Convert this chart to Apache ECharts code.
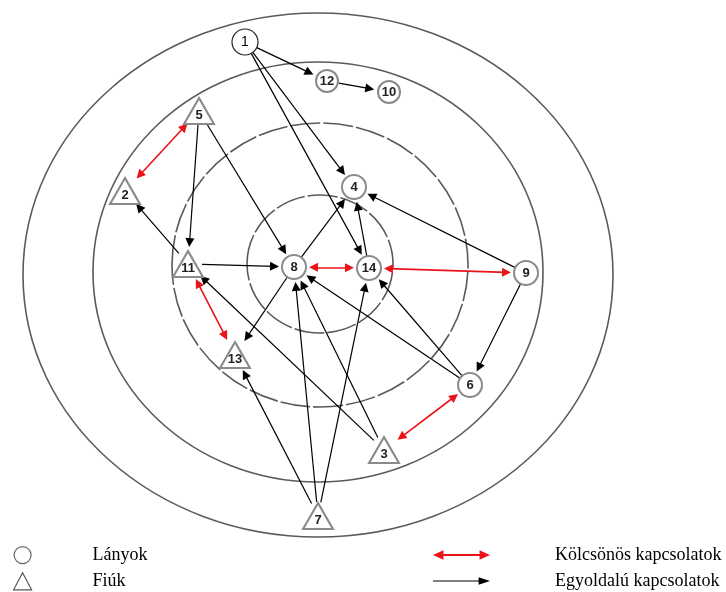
<!DOCTYPE html>
<html>
<head>
<meta charset="utf-8">
<script src="https://cdn.jsdelivr.net/npm/echarts@6/dist/echarts.min.js"></script>
<style>
html,body{margin:0;padding:0;background:#fff;}
#main{width:726px;height:592px;}
</style>
</head>
<body>
<div id="main"></div>
<script>
// Girls (circles): [label, x, y]
const girls = [
  ['1', 245, 42], ['12', 327, 81], ['10', 389, 92], ['4', 354, 187],
  ['8', 294, 267], ['14', 369, 268], ['9', 526, 273], ['6', 470, 385]
];
// Boys (triangles): [label, x, y]
const boys = [
  ['5', 199, 111], ['2', 125, 191], ['11', 188, 264],
  ['13', 235, 355], ['3', 384, 450], ['7', 318, 516]
];
// Mutual (red, two-way) relations
const mutualLinks = [['5', '2'], ['11', '13'], ['8', '14'], ['14', '9'], ['6', '3']];
// One-way (black) relations: [from, to]
const oneWayLinks = [
  ['1', '12'], ['1', '4'], ['1', '14'], ['12', '10'], ['5', '11'], ['5', '8'],
  ['11', '2'], ['11', '8'], ['8', '4'], ['8', '13'], ['14', '4'], ['9', '4'],
  ['9', '6'], ['6', '14'], ['6', '8'], ['3', '11'], ['3', '8'],
  ['7', '13'], ['7', '8'], ['7', '14']
];
// Concentric rings: [cx, cy, rx, ry, dashed]
const rings = [
  [318, 275, 295, 262, 0],
  [318, 272, 225, 210, 0],
  [320, 265, 148, 142, 1],
  [320, 264, 73, 69, 1]
];
// Legend texts
const legendLeft = ['Lányok', 'Fiúk'];
const legendRight = ['Kölcsönös kapcsolatok', 'Egyoldalú kapcsolatok'];

const nodes = {};
girls.forEach(g => nodes[g[0]] = {x: g[1], y: g[2], r: g[0] === '1' ? 13 : 12});
boys.forEach(b => nodes[b[0]] = {x: b[1], y: b[2], r: 14});

const ARROW = 9, GAP = 3;
function seg(a, b, arrowA, arrowB) {
  const A = nodes[a], B = nodes[b];
  const dx = B.x - A.x, dy = B.y - A.y, L = Math.hypot(dx, dy);
  const ux = dx / L, uy = dy / L;
  const sa = arrowA ? A.r + GAP + ARROW / 2 : A.r;
  const sb = arrowB ? B.r + GAP + ARROW / 2 : B.r;
  return {coords: [[A.x + ux * sa, A.y + uy * sa], [B.x - ux * sb, B.y - uy * sb]]};
}

const labelStyle = {
  show: true, position: 'inside', formatter: p => p.value[2],
  fontFamily: 'Liberation Sans', fontWeight: 'bold', fontSize: 13, color: '#222'
};
const legendText = {fontFamily: 'Liberation Serif', fontSize: 18, lineHeight: 18, color: '#000'};

const chart = echarts.init(document.getElementById('main'));
chart.setOption({
  animation: false,
  backgroundColor: '#fff',
  grid: {left: 0, right: 0, top: 0, bottom: 0},
  xAxis: {type: 'value', min: 0, max: 726, show: false},
  yAxis: {type: 'value', min: 0, max: 592, inverse: true, show: false},
  legend: [
    {
      left: 13, top: 546, height: 46, padding: 0, orient: 'vertical', itemGap: 8,
      itemWidth: 18, itemHeight: 17, selectedMode: false,
      textStyle: Object.assign({padding: [0, 0, 0, 56]}, legendText),
      data: [
        {name: legendLeft[0], icon: 'circle', itemStyle: {color: '#fff', borderColor: '#666', borderWidth: 1.2}},
        {name: legendLeft[1], icon: 'triangle', itemStyle: {color: '#fff', borderColor: '#555', borderWidth: 1.2}}
      ]
    },
    {
      left: 433, top: 546, height: 46, padding: 0, orient: 'vertical', itemGap: 8,
      itemWidth: 57, itemHeight: 10, selectedMode: false,
      textStyle: Object.assign({padding: [0, 0, 0, 60]}, legendText),
      data: [
        {name: legendRight[0], icon: 'path://M0,5L11,0L11,4L49,4L49,0L60,5L49,10L49,6L11,6L11,10Z',
         itemStyle: {color: '#e8141a', borderWidth: 0}},
        {name: legendRight[1], icon: 'path://M0,4.4L48,4.4L48,1L60,5L48,9L48,5.6L0,5.6Z',
         itemStyle: {color: '#000', borderWidth: 0}}
      ]
    }
  ],
  series: [
    {
      type: 'custom', name: 'rings', silent: true, z: 1,
      data: rings,
      renderItem: (params, api) => {
        const c = api.coord([api.value(0), api.value(1)]);
        const s = api.size([api.value(2), api.value(3)]);
        return {
          type: 'ellipse',
          shape: {cx: c[0], cy: c[1], rx: s[0], ry: s[1]},
          style: {fill: null, stroke: '#5a5a5a', lineWidth: 1.6,
                   lineDash: api.value(4) ? [30, 3] : null}
        };
      }
    },
    {
      type: 'lines', name: legendRight[1], coordinateSystem: 'cartesian2d', z: 2,
      symbol: ['none', 'triangle'], symbolSize: ARROW,
      lineStyle: {color: '#000', width: 1.2, opacity: 1},
      itemStyle: {color: '#000'},
      data: oneWayLinks.map(l => seg(l[0], l[1], false, true))
    },
    {
      type: 'lines', name: legendRight[0], coordinateSystem: 'cartesian2d', z: 2,
      symbol: ['triangle', 'triangle'], symbolSize: ARROW,
      lineStyle: {color: '#e8141a', width: 1.6, opacity: 1},
      itemStyle: {color: '#e8141a'},
      data: mutualLinks.map(l => seg(l[0], l[1], true, true))
    },
    {
      type: 'scatter', name: legendLeft[0], z: 3,
      symbol: 'circle', symbolSize: 24,
      itemStyle: {color: '#fff', borderColor: '#8a8a8a', borderWidth: 2, opacity: 1},
      label: labelStyle,
      data: girls.map(g => g[0] === '1'
        ? {value: [g[1], g[2], g[0]], symbolSize: 26,
           itemStyle: {borderColor: '#222', borderWidth: 1.2},
           label: {fontWeight: 'normal', color: '#000', fontSize: 14}}
        : {value: [g[1], g[2], g[0]], symbolSize: (g[0] === '12' || g[0] === '10') ? 22 : 24})
    },
    {
      type: 'scatter', name: legendLeft[1], z: 3,
      symbol: 'triangle', symbolSize: [30, 26],
      itemStyle: {color: '#fff', borderColor: '#8a8a8a', borderWidth: 2, opacity: 1},
      label: Object.assign({}, labelStyle, {offset: [0, 4]}),
      data: boys.map(b => [b[1], b[2], b[0]])
    }
  ]
});
</script>
</body>
</html>
